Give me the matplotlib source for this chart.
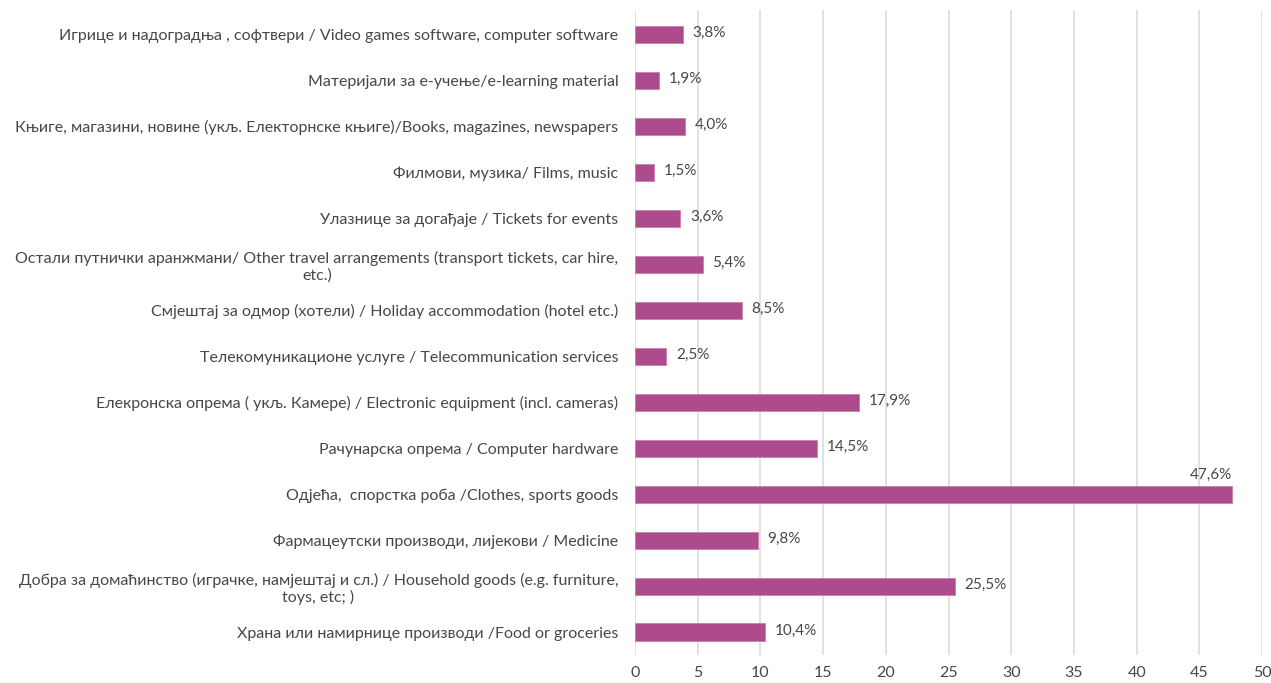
import numpy as np
import matplotlib
matplotlib.use("Agg")
from matplotlib import pyplot as plt

plt.rcParams['font.family'] = ['Lato', 'DejaVu Sans']

# categories, top to bottom as in the chart
categories = [
    "Игрице и надоградња , софтвери / Video games software, computer software",
    "Материјали за е-учење/e-learning material",
    "Књиге, магазини, новине (укљ. Електорнске књиге)/Books, magazines, newspapers",
    "Филмови, музика/ Films, music",
    "Улазнице за догађаје / Tickets for events",
    "Остали путнички аранжмани/ Other travel arrangements (transport tickets, car hire,\netc.)",
    "Смјештај за одмор (хотели) / Holiday accommodation (hotel etc.)",
    "Телекомуникационе услуге / Telecommunication services",
    "Елекронска опрема ( укљ. Камере) / Electronic equipment (incl. cameras)",
    "Рачунарска опрема / Computer hardware",
    "Одјећа,  спорстка роба /Clothes, sports goods",
    "Фармацеутски производи, лијекови / Medicine",
    "Добра за домаћинство (играчке, намјештај и сл.) / Household goods (e.g. furniture,\ntoys, etc; )",
    "Храна или намирнице производи /Food or groceries",
]
values = [3.8, 1.9, 4.0, 1.5, 3.6, 5.4, 8.5, 2.5, 17.9, 14.5, 47.6, 9.8, 25.5, 10.4]
x_ticks = list(range(0, 55, 5))

bar_color = '#AE4B8D'
text_color = '#474747'
grid_color = '#DEDEDE'


def main():
    fig = plt.figure(figsize=(12.71, 6.83), dpi=100)
    ax = fig.add_axes([0.4996, 0.041, 0.4934, 0.944])

    y = np.arange(len(categories))
    ax.barh(y, values, height=0.37, color=bar_color, edgecolor='#C77FAE',
            linewidth=0.6, zorder=3)

    for yi, v in zip(y, values):
        txt = f"{v:.1f}".replace('.', ',') + '%'
        if v > 45:
            ax.annotate(txt, (v, yi - 0.2), xytext=(0, 2), textcoords='offset points',
                        ha='right', va='bottom', fontsize=11, color=text_color)
        else:
            ax.annotate(txt, (v, yi), xytext=(7, 1), textcoords='offset points',
                        ha='left', va='center', fontsize=11, color=text_color)

    ax.set_ylim(len(categories) - 0.5, -0.52)
    ax.set_xlim(0, 50)
    ax.set_xticks(x_ticks)
    ax.set_yticks(y)
    ax.set_yticklabels(categories, fontsize=11.5, color=text_color,
                       multialignment='center')
    ax.tick_params(axis='both', length=0, colors=text_color)
    ax.tick_params(axis='x', labelsize=11.5, pad=8)
    ax.tick_params(axis='y', pad=12)

    for s in ax.spines.values():
        s.set_visible(False)
    ax.xaxis.grid(True, color=grid_color, linewidth=1.3, zorder=0)
    ax.set_axisbelow(True)

    fig.savefig('out.png', dpi=100)


if __name__ == "__main__":
    main()
